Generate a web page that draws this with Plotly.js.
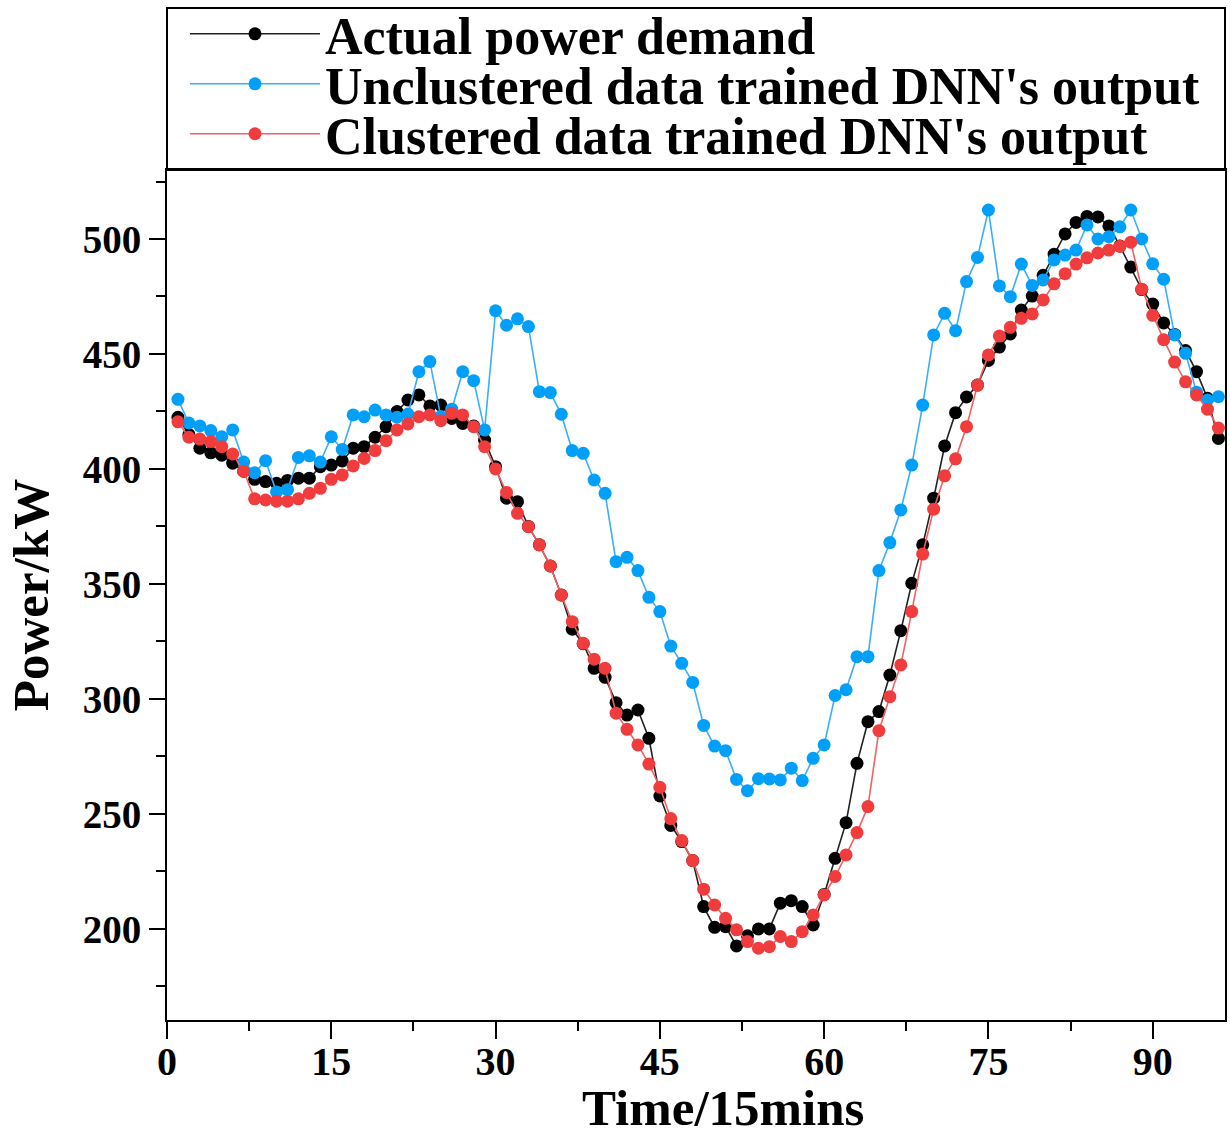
<!DOCTYPE html>
<html>
<head>
<meta charset="utf-8">
<script src="https://cdn.plot.ly/plotly-3.0.1.min.js"></script>
<style>html,body{margin:0;padding:0;background:#fff;}#chart{width:1230px;height:1135px;}</style>
</head>
<body>
<div id="chart"></div>
<script>
// Time index (15-minute intervals)
const timeIdx = Array.from({length: 96}, (_, i) => i + 1);

const seriesNames = [
  "Actual power demand",
  "Unclustered data trained DNN's output",
  "Clustered data trained DNN's output"
];

const actualDemand = [
  422.5, 415, 409, 407, 406, 402.5, 399, 395.5, 394.5, 393.8,
  395, 396, 396, 401, 401.7, 403.5, 409, 409.7, 413.8, 418.4,
  425, 430, 432.2, 427.4, 427.8, 422, 419.8, 418.7, 412.5, 401,
  387.3, 385.8, 375, 367, 357.8, 345.2, 330.3, 324, 313.3, 309.4,
  298.4, 293, 295.2, 282.9, 257.8, 245, 238, 229.7, 209.7, 200.7,
  201, 192.6, 197, 200, 200, 211.2, 212.3, 209.7, 201.7, 215,
  230.7, 246.2, 272, 290.1, 294.5, 310.4, 329.7, 350.3, 367, 387.3,
  410, 424.5, 431.3, 436.5, 447.2, 453, 458.7, 469.1, 475.2, 484.2,
  493.4, 502.2, 507.2, 509.8, 509.6, 505.7, 497, 487.8, 478, 471.7,
  463.5, 458.5, 451.5, 442.3, 430.7, 413.3
];

const unclusteredDNN = [
  430.3, 420, 418.7, 416.7, 414, 417, 403, 398.4, 403.6, 390,
  391, 405, 405.7, 403, 414, 408.5, 423.5, 422.7, 425.6, 423.5,
  422.5, 423.9, 442.3, 446.7, 422.8, 426, 442.3, 438.4, 417, 468.8,
  462.5, 465.3, 461.9, 433.6, 433.2, 423.8, 408, 406.8, 395.2, 389.4,
  359.7, 361.6, 355.8, 344.2, 338, 323, 315.5, 307.2, 288.5, 279.5,
  277.5, 265, 260.1, 265.3, 265.2, 264.8, 269.9, 264.5, 274.2, 280,
  301.5, 304, 318.4, 318.4, 355.8, 368, 382.2, 401.7, 427.8, 458.3,
  467.7, 460.1, 481.5, 492, 512.6, 479.6, 474.9, 489.1, 479.8, 482.2,
  490.9, 493, 495.2, 506.1, 500, 501, 505.3, 512.6, 500, 489.2,
  482.5, 458.3, 450.3, 433.4, 430, 431.4
];

const clusteredDNN = [
  420.5, 413.8, 413, 411.9, 409.7, 406.5, 399, 387, 386.5, 386,
  386, 387, 389.4, 391.6, 395.5, 397.4, 401.3, 404.6, 408, 412.3,
  417, 419.6, 422.7, 423.5, 421, 424.2, 423.5, 418.4, 409.7, 400,
  389.8, 380.7, 374.9, 367, 357.8, 345.2, 333.6, 324.2, 317.3, 313.3,
  293.8, 286.8, 280, 271.7, 261.6, 248, 238.4, 229.7, 217.3, 210.4,
  204.6, 199.6, 194.5, 191.6, 192.3, 196.7, 194.5, 198.8, 206.1, 214.8,
  222.8, 232.2, 241.9, 253.2, 286.2, 301, 314.8, 338, 363, 382.5,
  397, 404.4, 418.4, 436.5, 449.6, 457.8, 461.6, 465.5, 467.4, 473.5,
  480.5, 484.9, 489.1, 491.8, 493.9, 495.2, 496.8, 498.6, 478.2, 466.8,
  456.2, 446.5, 437.9, 432.2, 426, 417.8
];

const xTickVals = [0, 15, 30, 45, 60, 75, 90];
const yTickVals = [200, 250, 300, 350, 400, 450, 500];
const xTitle = 'Time/15mins';
const yTitle = 'Power/kW';

const FONT = "'Liberation Serif', 'Times New Roman', serif";

const traces = [
  {x: timeIdx, y: actualDemand, name: seriesNames[0], type: 'scatter', mode: 'lines+markers',
   line: {color: '#222222', width: 1.6}, marker: {color: '#000000', size: 13}, legend: 'legend'},
  {x: timeIdx, y: unclusteredDNN, name: seriesNames[1], type: 'scatter', mode: 'lines+markers',
   line: {color: '#3aaefc', width: 1.6}, marker: {color: '#00a0fa', size: 13}, legend: 'legend2'},
  {x: timeIdx, y: clusteredDNN, name: seriesNames[2], type: 'scatter', mode: 'lines+markers',
   line: {color: '#f46060', width: 1.6}, marker: {color: '#f03c3c', size: 13}, legend: 'legend3'}
];

const legendBase = {
  x: 0.0170, xanchor: 'left', yanchor: 'middle',
  bgcolor: 'rgba(0,0,0,0)', borderwidth: 0,
  font: {family: FONT, size: 52, color: '#000', weight: 'bold'},
  itemwidth: 130
};

const layout = {
  width: 1230, height: 1135,
  margin: {l: 167, r: 5, t: 170, b: 115, autoexpand: false},
  paper_bgcolor: '#fff', plot_bgcolor: '#fff',
  showlegend: true,
  legend: Object.assign({}, legendBase, {y: 1.16}),
  legend2: Object.assign({}, legendBase, {y: 1.1012}),
  legend3: Object.assign({}, legendBase, {y: 1.0424}),
  xaxis: {
    range: [0, 96.6], tickvals: xTickVals, ticktext: xTickVals.map(String),
    showgrid: false, zeroline: false,
    showline: true, linecolor: '#000', linewidth: 2, mirror: true,
    ticks: 'outside', ticklen: 17, tickwidth: 2, tickcolor: '#000',
    ticklabelstandoff: -12,
    minor: {ticks: 'outside', dtick: 7.5, tick0: 0, ticklen: 9, tickwidth: 2, tickcolor: '#000', showgrid: false},
    tickfont: {family: FONT, size: 40, color: '#000', weight: 'bold'}
  },
  yaxis: {
    range: [160.4, 530], tickvals: yTickVals, ticktext: yTickVals.map(String),
    showgrid: false, zeroline: false,
    showline: true, linecolor: '#000', linewidth: 2, mirror: true,
    ticks: 'outside', ticklen: 16, tickwidth: 2, tickcolor: '#000',
    minor: {ticks: 'outside', dtick: 25, tick0: 0, ticklen: 9, tickwidth: 2, tickcolor: '#000', showgrid: false},
    tickfont: {family: FONT, size: 39, color: '#000', weight: 'bold'},
    title: {text: yTitle, font: {family: FONT, size: 51, color: '#000', weight: 'bold'}, standoff: 18}
  },
  annotations: [
    {text: xTitle, xref: 'paper', yref: 'paper', x: 0.5255, y: -0.1035,
     xanchor: 'center', yanchor: 'middle', showarrow: false,
     font: {family: FONT, size: 51, color: '#000', weight: 'bold'}}
  ],
  shapes: [
    {type: 'rect', xref: 'paper', yref: 'paper', x0: 0, x1: 1, y0: 1, y1: 1.1906,
     line: {color: '#000', width: 2}, fillcolor: 'rgba(0,0,0,0)', layer: 'above'}
  ]
};

Plotly.newPlot('chart', traces, layout, {displayModeBar: false, staticPlot: true});
</script>
</body>
</html>
